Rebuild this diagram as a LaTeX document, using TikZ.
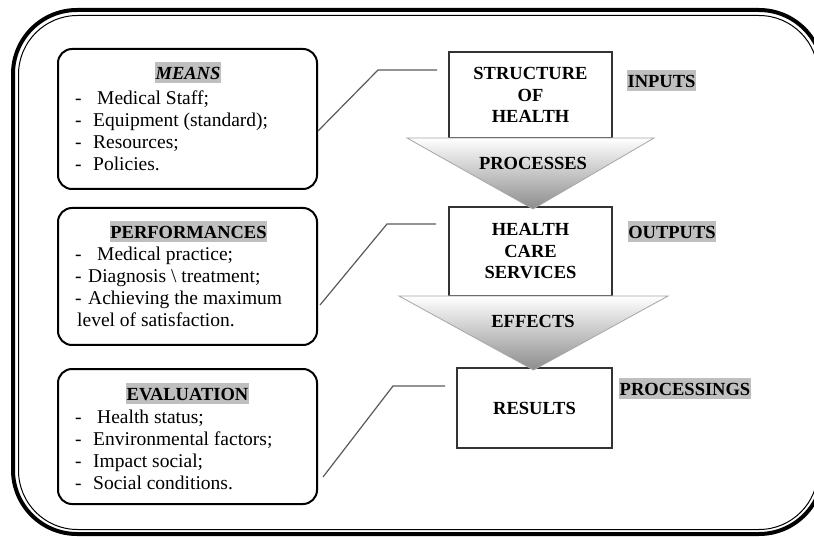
\documentclass[tikz,border=0pt]{standalone}
\usepackage{fontspec}
\setmainfont{Liberation Serif}
\newcommand{\mystrut}{\rule{0pt}{15pt}}
\begin{document}
\begin{tikzpicture}[x=1pt,y=-1pt,
  txt/.style={font=\fontsize{19.5}{22}\selectfont, inner sep=0pt},
  hl/.style={font=\fontsize{18.5}{22}\selectfont\bfseries, fill=gray!50, inner xsep=0.8pt, inner ysep=0pt, text height=17.5pt, text depth=3.5pt, anchor=base},
  lbox/.style={draw=black, line width=2pt, rounded corners=14pt, minimum width=259pt},
  rbox/.style={draw=black!80, line width=1.2pt, font=\fontsize{18.5}{21.5}\selectfont\bfseries, align=center, inner sep=0pt},
  tlabel/.style={font=\fontsize{18.5}{22}\selectfont\bfseries, inner sep=0pt, anchor=base},
  conn/.style={draw=black!65, line width=1.2pt},
  list/.style={txt, anchor=north west, align=left},
  tri/.style={top color=white, bottom color=black!45, draw=black!35, line width=0.8pt}
]
\useasboundingbox (0,0) rectangle (814,537);
% outer frame
\draw[line width=4pt, rounded corners=64pt] (13,10) rectangle (823,534);
\draw[line width=1pt, rounded corners=59pt] (18.5,15.5) rectangle (818,529.5);

% left boxes
\node[lbox, minimum height=140pt] (means) at (187.5,119) {};
\node[lbox, minimum height=137pt] (perf) at (187.5,276.5) {};
\node[lbox, minimum height=135pt] (eval) at (187.5,436.5) {};

\node[hl] (meansh) at (188,80) {\itshape MEANS};
\node[list] (meansl) at (75,89) {\mystrut\makebox[22pt][l]{-}Medical Staff;\\
\makebox[18pt][l]{-}Equipment (standard);\\
\makebox[18pt][l]{-}Resources;\\
\makebox[18pt][l]{-}Policies.};

\node[hl] (perfh) at (188.5,239) {PERFORMANCES};
\node[list] (perfl) at (75,245) {\mystrut\makebox[22pt][l]{-}Medical practice;\\
\makebox[13pt][l]{-}Diagnosis \textbackslash{} treatment;\\
\makebox[13pt][l]{-}Achieving the maximum\\
\hspace*{2pt}level of satisfaction.};

\node[hl] (evalh) at (187.5,400) {EVALUATION};
\node[list] (evall) at (75,408) {\mystrut\makebox[22pt][l]{-}Health status;\\
\makebox[18pt][l]{-}Environmental factors;\\
\makebox[18pt][l]{-}Impact social;\\
\makebox[18pt][l]{-}Social conditions.};

% right boxes
\node[rbox, minimum width=163pt, minimum height=86pt] (struct) at (530.5,95) {STRUCTURE\\OF\\HEALTH};
\node[rbox, minimum width=163pt, minimum height=89pt] (hcs) at (530.5,251.5) {HEALTH\\CARE\\SERVICES};
\node[rbox, minimum width=155pt, minimum height=80pt] (res) at (534.5,408) {RESULTS};

% triangles
\path[tri] (407,138) -- (654,138) -- (533,209) -- cycle;
\path[tri] (399,296) -- (668,296) -- (533.5,370) -- cycle;
\node[tlabel] (proc) at (533,170) {PROCESSES};
\node[tlabel] (eff) at (533,328) {EFFECTS};

% side labels
\node[hl] (inputs) at (661.5,88) {INPUTS};
\node[hl] (outputs) at (672,239) {OUTPUTS};
\node[hl] (procs) at (685,395) {PROCESSINGS};

% connectors
\coordinate (k1) at (378,70); \coordinate (e1) at (437,70);
\coordinate (k2) at (387,224); \coordinate (e2) at (436,224);
\coordinate (k3) at (393,386); \coordinate (e3) at (445,386);
\draw[conn] ([yshift=-12pt]means.east) -- (k1) -- (e1);
\draw[conn] ([yshift=-28.5pt,xshift=2pt]perf.east) -- (k2) -- (e2);
\draw[conn] ([yshift=-40.5pt,xshift=5pt]eval.east) -- (k3) -- (e3);
\end{tikzpicture}
\end{document}
